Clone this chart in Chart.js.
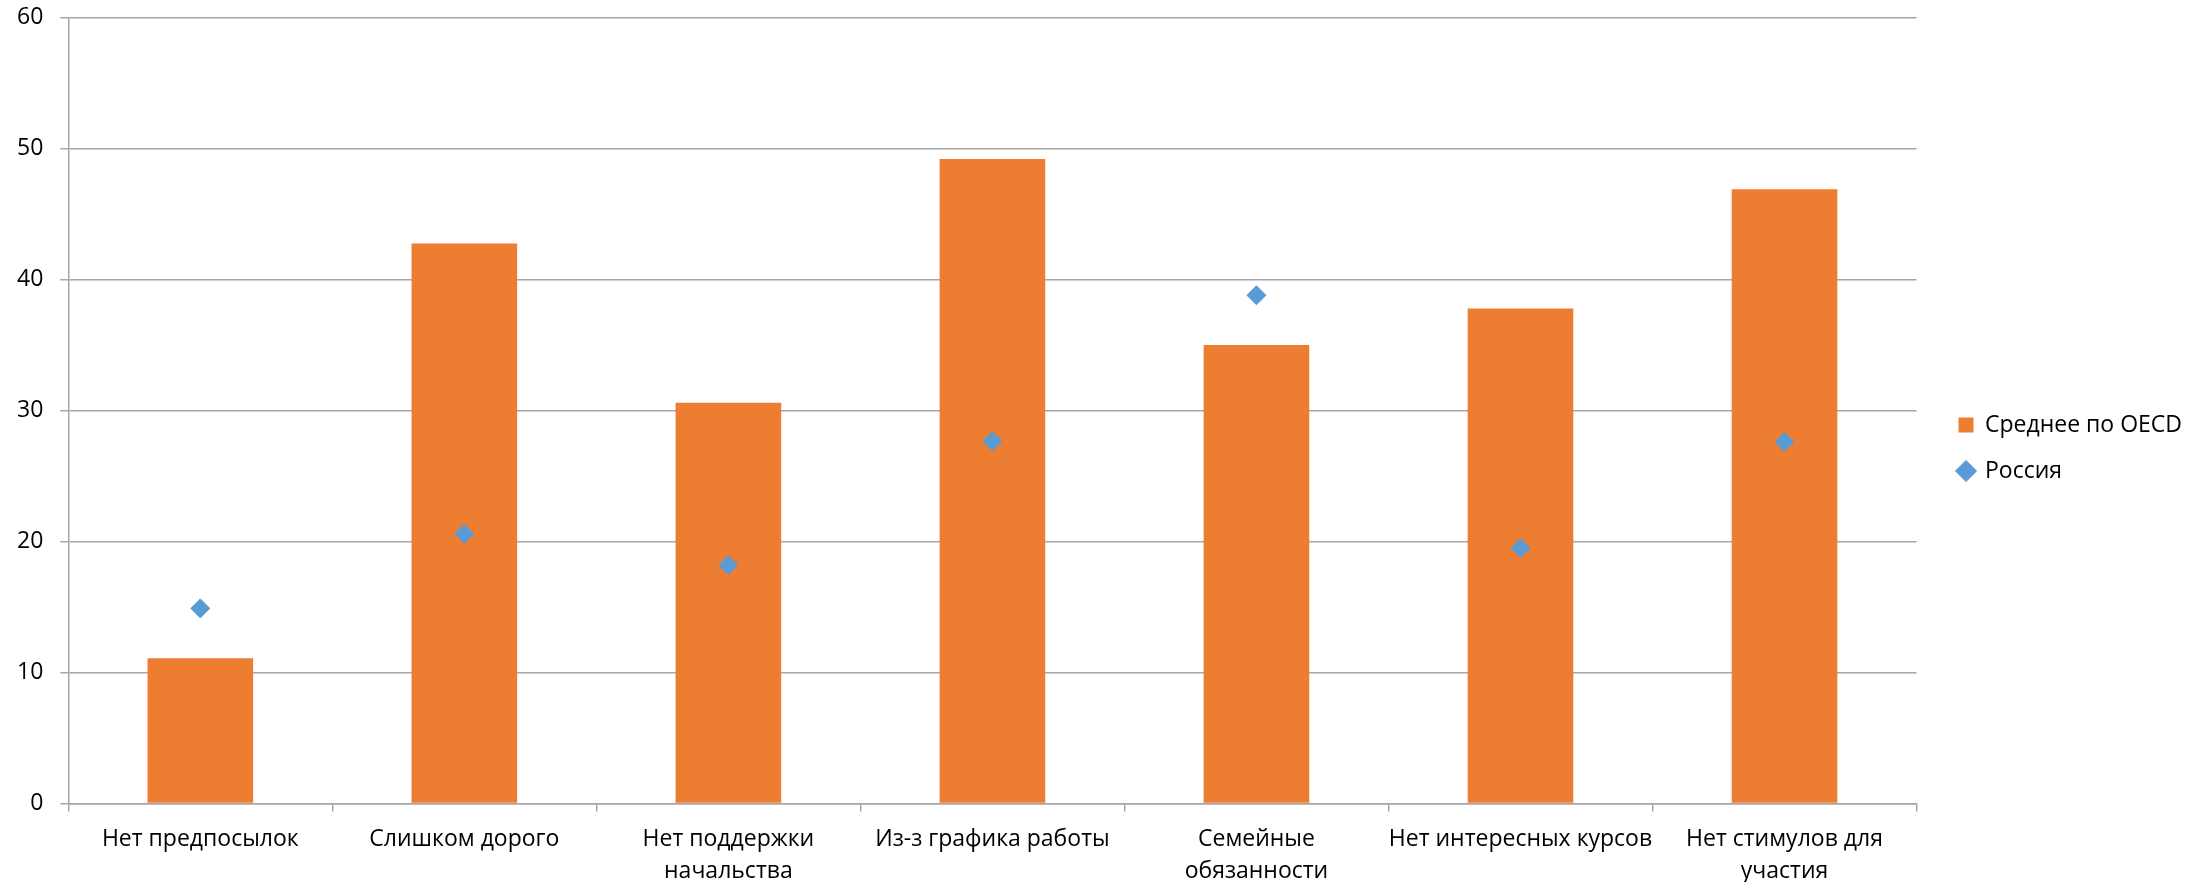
<!DOCTYPE html>
<html>
<head>
<meta charset="utf-8">
<script src="https://cdn.jsdelivr.net/npm/chart.js@4.4.1/dist/chart.umd.min.js"></script>
<style>
html,body{margin:0;padding:0;background:#fff;}
#wrap{width:2203px;height:882px;}
</style>
</head>
<body>
<div id="wrap"><canvas id="c" width="2203" height="882"></canvas></div>
<script>
const categories = [
  "Нет предпосылок",
  "Слишком дорого",
  ["Нет поддержки", "начальства"],
  "Из-з графика работы",
  ["Семейные", "обязанности"],
  "Нет интересных курсов",
  ["Нет стимулов для", "участия"]
];
const seriesNames = ["Среднее по OECD", "Россия"];
const oecdValues = [11.1, 42.75, 30.6, 49.2, 35.0, 37.8, 46.9];
const russiaValues = [14.9, 20.6, 18.2, 27.65, 38.8, 19.5, 27.6];
const yTicks = [0, 10, 20, 30, 40, 50, 60];

const FONT = "'Open Sans', 'DejaVu Sans', sans-serif";
const GRID = '#a6a6a6';

const legendShift = {
  id: 'legendShift',
  afterLayout(chart) {
    const lg = chart.legend;
    if (lg) { lg.left += 19; lg.right += 19; lg.top -= 2; lg.bottom -= 2; }
  }
};

new Chart(document.getElementById('c'), {
  type: 'bar',
  plugins: [legendShift],
  data: {
    labels: categories,
    datasets: [
      {
        type: 'bar',
        label: seriesNames[0],
        data: oecdValues,
        backgroundColor: '#ED7D31',
        borderWidth: 0,
        barPercentage: 0.4,
        categoryPercentage: 1.0,
        pointStyle: 'rect',
        order: 2
      },
      {
        type: 'line',
        label: seriesNames[1],
        data: russiaValues,
        showLine: false,
        pointStyle: 'rectRot',
        pointRadius: 9.5,
        pointHoverRadius: 9.5,
        pointBackgroundColor: '#5B9BD5',
        pointBorderColor: '#5B9BD5',
        pointBorderWidth: 1,
        backgroundColor: '#5B9BD5',
        borderColor: '#5B9BD5',
        order: 1
      }
    ]
  },
  options: {
    responsive: false,
    devicePixelRatio: 1,
    animation: false,
    layout: { padding: { left: 0, right: 30, top: 0, bottom: -18 } },
    plugins: {
      tooltip: { enabled: false },
      legend: {
        position: 'right',
        align: 'center',
        labels: {
          usePointStyle: true,
          boxHeight: 15,
          boxWidth: 15,
          padding: 23,
          color: '#000',
          font: { family: FONT, size: 23 },
          sort: (a, b) => a.datasetIndex - b.datasetIndex
        }
      }
    },
    scales: {
      x: {
        offset: true,
        grid: {
          offset: true,
          drawOnChartArea: false,
          drawTicks: true,
          tickLength: 8,
          color: GRID,
          lineWidth: 1.5
        },
        border: { display: true, color: GRID, width: 1.5 },
        ticks: {
          color: '#000',
          padding: 12,
          maxRotation: 0,
          autoSkip: false,
          font: { family: FONT, size: 23, lineHeight: 1.4 }
        }
      },
      y: {
        min: 0,
        max: 60,
        afterBuildTicks: (axis) => { axis.ticks = yTicks.map(v => ({ value: v })); },
        grid: {
          drawTicks: true,
          tickLength: 8,
          color: GRID,
          lineWidth: 1.5
        },
        border: { display: true, color: GRID, width: 1.5 },
        ticks: {
          color: '#000',
          padding: 17,
          font: { family: FONT, size: 23, lineHeight: 0.05 }
        }
      }
    }
  }
});
</script>
</body>
</html>
